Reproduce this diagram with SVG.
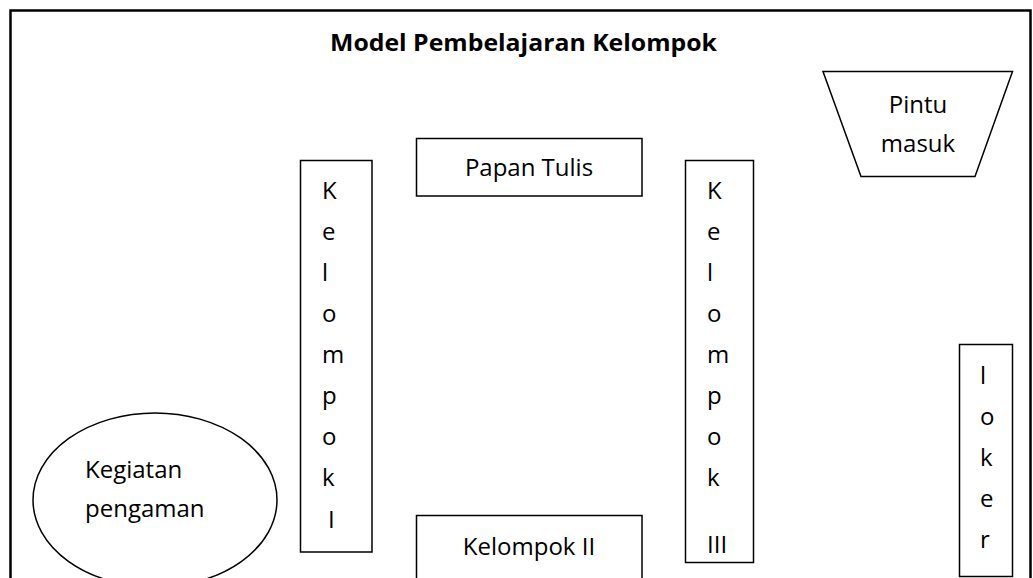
<svg xmlns="http://www.w3.org/2000/svg" width="1033" height="578" viewBox="0 0 1033 578">
  <style>
    .shape { fill: #ffffff; stroke: #000000; stroke-width: 1.5; }
    .frame { fill: none; stroke: #000000; stroke-width: 2.5; }
    .lbl { font-family: "Open Sans", "Noto Sans", sans-serif; font-size: 24px; fill: #000000; }
    .mid { text-anchor: middle; }
    .title { font-family: "Open Sans", "Noto Sans", sans-serif; font-size: 24px; font-weight: bold; fill: #000000; }
  </style>
  <rect x="0" y="0" width="1033" height="578" fill="#ffffff"/>
  <g id="frame">
    <path class="frame" d="M10.5,590 L10.5,10.5 L1030.5,10.5 L1030.5,590"/>
  </g>
  <g id="title">
    <text class="title" x="330" y="51" textLength="387" lengthAdjust="spacingAndGlyphs">Model Pembelajaran Kelompok</text>
  </g>
  <g id="papan-tulis">
    <rect class="shape" x="416.5" y="138.5" width="225.5" height="57.5"/>
    <text class="lbl mid" x="529" y="176">Papan Tulis</text>
  </g>
  <g id="pintu-masuk">
    <polygon class="shape" points="823,71.5 1012.5,71.5 975,176.5 861,176.5"/>
    <text class="lbl mid" x="918" y="113">Pintu</text>
    <text class="lbl mid" x="918" y="152">masuk</text>
  </g>
  <g id="kelompok-1">
    <rect class="shape" x="300.5" y="160.5" width="71.5" height="391.5"/>
    <text class="lbl" x="322" y="199">K</text>
    <text class="lbl" x="322" y="240">e</text>
    <text class="lbl" x="322" y="281">l</text>
    <text class="lbl" x="322" y="322">o</text>
    <text class="lbl" x="322" y="363">m</text>
    <text class="lbl" x="322" y="404">p</text>
    <text class="lbl" x="322" y="445">o</text>
    <text class="lbl" x="322" y="486">k</text>
    <text class="lbl" x="328" y="528">I</text>
  </g>
  <g id="kelompok-3">
    <rect class="shape" x="685.5" y="160.5" width="68" height="402"/>
    <text class="lbl" x="707" y="199">K</text>
    <text class="lbl" x="707" y="240">e</text>
    <text class="lbl" x="707" y="281">l</text>
    <text class="lbl" x="707" y="322">o</text>
    <text class="lbl" x="707" y="363">m</text>
    <text class="lbl" x="707" y="404">p</text>
    <text class="lbl" x="707" y="445">o</text>
    <text class="lbl" x="707" y="486">k</text>
    <text class="lbl" x="707" y="553">III</text>
  </g>
  <g id="kelompok-2">
    <rect class="shape" x="416.5" y="515.5" width="225.5" height="80"/>
    <text class="lbl mid" x="529" y="555">Kelompok II</text>
  </g>
  <g id="loker">
    <rect class="shape" x="959.5" y="344.5" width="53" height="232"/>
    <text class="lbl" x="980" y="384">l</text>
    <text class="lbl" x="980" y="425">o</text>
    <text class="lbl" x="980" y="466">k</text>
    <text class="lbl" x="980" y="507">e</text>
    <text class="lbl" x="980" y="548">r</text>
  </g>
  <g id="kegiatan-pengaman">
    <ellipse class="shape" cx="155" cy="500" rx="122" ry="87"/>
    <text class="lbl" x="85" y="478">Kegiatan</text>
    <text class="lbl" x="85" y="517">pengaman</text>
  </g>
  <g id="connectors"></g>
</svg>
